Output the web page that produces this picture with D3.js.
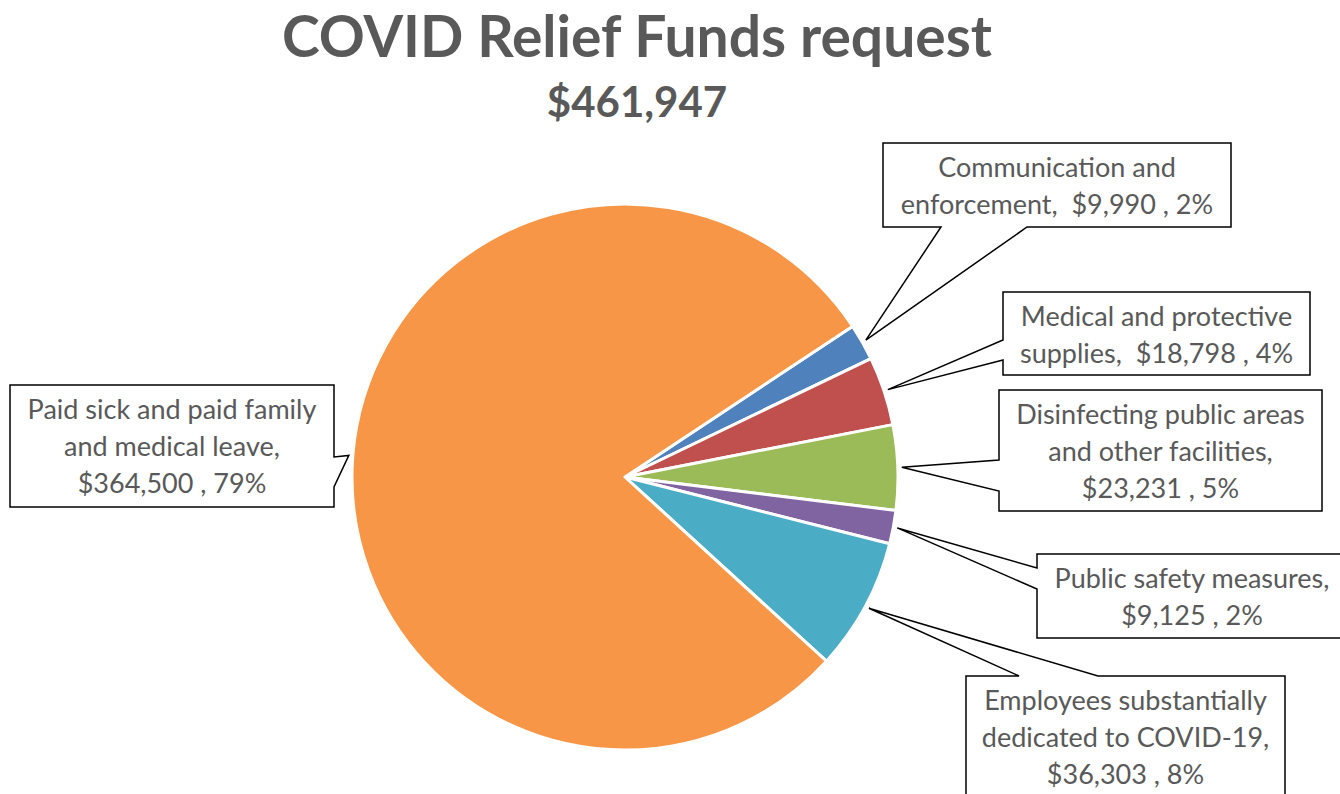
<!DOCTYPE html>
<html>
<head>
<meta charset="utf-8">
<script src="https://cdn.jsdelivr.net/npm/d3@7"></script>
<style>
  html, body { margin: 0; padding: 0; background: #fff; }
  svg { display: block; }
</style>
</head>
<body>
<svg id="chart" width="1340" height="794"></svg>
<script>
// Spending categories, in drawing order (clockwise)
const categories = [
  "Communication and enforcement",
  "Medical and protective supplies",
  "Disinfecting public areas and other facilities",
  "Public safety measures",
  "Employees substantially dedicated to COVID-19",
  "Paid sick and paid family and medical leave"
];
const amounts = [9990, 18798, 23231, 9125, 36303, 364500];
const sliceColors = ["#4F81BD", "#C0504D", "#9BBB59", "#8064A2", "#4BACC6", "#F79646"];

const titleText = "COVID Relief Funds request";

// How each category name wraps inside its callout, and whether the
// amount/percent goes on the last name line or on a line of its own.
const nameLines = [
  ["Communication and", "enforcement"],
  ["Medical and protective", "supplies"],
  ["Disinfecting public areas", "and other facilities"],
  ["Public safety measures"],
  ["Employees substantially", "dedicated to COVID-19"],
  ["Paid sick and paid family", "and medical leave"]
];
const valueOnOwnLine = [false, false, true, true, true, true];

// Callout boxes: rectangle plus the edge the pointer leaves from
const callouts = [
  { x: 883,  y: 143, w: 348, h: 84,  side: "bottom", a: 941,  b: 1027 },
  { x: 1003, y: 292, w: 307, h: 83,  side: "left",   a: 340,  b: 360 },
  { x: 999,  y: 390, w: 323, h: 121, side: "left",   a: 460,  b: 491 },
  { x: 1037, y: 554, w: 310, h: 84,  side: "left",   a: 568,  b: 589 },
  { x: 966,  y: 676, w: 319, h: 132, side: "top",    a: 1019, b: 1098 },
  { x: 10,   y: 385, w: 324, h: 122, side: "right",  a: 457,  b: 487 }
];

const cx = 625, cy = 477, R = 273;
const textColor = "#595959";
const labelFont = "Lato, 'Open Sans', sans-serif";
const labelSize = 27;

const svg = d3.select("#chart");

const total = d3.sum(amounts);
const money = d3.format("$,");
const pct = d3.format(".0%");

// Title and total
svg.append("text")
  .attr("x", 637).attr("y", 57)
  .attr("text-anchor", "middle")
  .attr("font-family", labelFont)
  .attr("font-weight", 700)
  .attr("font-size", 57)
  .attr("fill", textColor)
  .text(titleText);

svg.append("text")
  .attr("x", 637).attr("y", 117)
  .attr("text-anchor", "middle")
  .attr("font-family", labelFont)
  .attr("font-weight", 700)
  .attr("font-size", 42)
  .attr("fill", textColor)
  .text(money(total));

// Pie
const startDeg = 56.5;
const pie = d3.pie()
  .sort(null)
  .value(d => d)
  .startAngle(startDeg * Math.PI / 180)
  .endAngle((startDeg + 360) * Math.PI / 180);

const arcs = pie(amounts);
const arc = d3.arc().innerRadius(0).outerRadius(R);
const tipArc = d3.arc().innerRadius(R + 4).outerRadius(R + 4);

const g = svg.append("g").attr("transform", `translate(${cx},${cy})`);
g.selectAll("path.slice")
  .data(arcs)
  .join("path")
  .attr("class", "slice")
  .attr("d", arc)
  .attr("fill", (d, i) => sliceColors[i])
  .attr("stroke", "#fff")
  .attr("stroke-width", 3)
  .attr("stroke-linejoin", "round");

// Callout outline: rectangle with a wedge out to the slice
function calloutPath(c, tip) {
  const { x, y, w, h, side } = c;
  const lo = Math.min(c.a, c.b), hi = Math.max(c.a, c.b);
  const p = d3.path();
  p.moveTo(x, y);
  if (side === "top") { p.lineTo(lo, y); p.lineTo(tip[0], tip[1]); p.lineTo(hi, y); }
  p.lineTo(x + w, y);
  if (side === "right") { p.lineTo(x + w, lo); p.lineTo(tip[0], tip[1]); p.lineTo(x + w, hi); }
  p.lineTo(x + w, y + h);
  if (side === "bottom") { p.lineTo(hi, y + h); p.lineTo(tip[0], tip[1]); p.lineTo(lo, y + h); }
  p.lineTo(x, y + h);
  if (side === "left") { p.lineTo(x, hi); p.lineTo(tip[0], tip[1]); p.lineTo(x, lo); }
  p.closePath();
  return p.toString();
}

const labels = svg.append("g");
arcs.forEach((d, i) => {
  const c = callouts[i];
  const t = tipArc.centroid(d);
  const tip = [t[0] + cx, t[1] + cy];

  labels.append("path")
    .attr("d", calloutPath(c, tip))
    .attr("fill", "#fff")
    .attr("stroke", "#000")
    .attr("stroke-width", 1.5)
    .attr("stroke-linejoin", "miter");

  const valuePart = `${money(amounts[i])} , ${pct(amounts[i] / total)}`;
  const names = nameLines[i].slice();
  const lines = names.slice(0, -1);
  const last = names[names.length - 1] + ",";
  if (valueOnOwnLine[i]) { lines.push(last, valuePart); }
  else { lines.push(last + "\u00a0\u00a0" + valuePart); }

  const tx = labels.append("text")
    .attr("font-family", labelFont)
    .attr("font-size", labelSize)
    .attr("fill", textColor)
    .attr("text-anchor", "middle");
  lines.forEach((ln, k) => {
    tx.append("tspan")
      .attr("x", c.x + c.w / 2)
      .attr("y", c.y + 24.5 + k * 37 + labelSize * 0.36)
      .text(ln);
  });
});
</script>
</body>
</html>
